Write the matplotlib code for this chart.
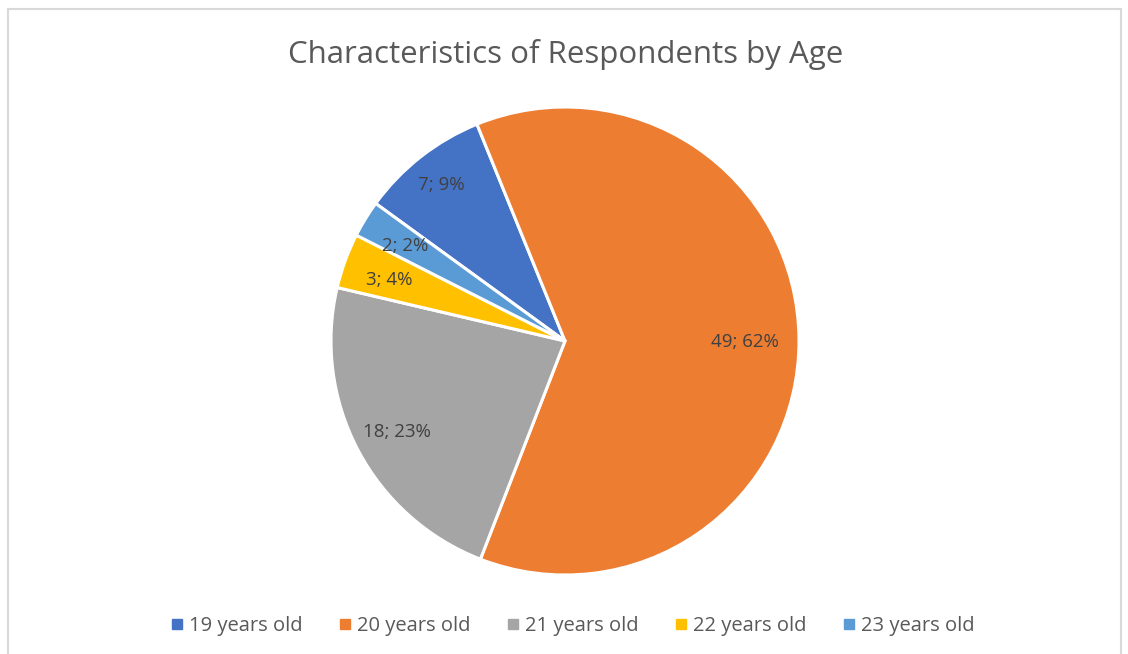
import numpy as np
import matplotlib
matplotlib.use("Agg")
import matplotlib.pyplot as plt
from matplotlib.patches import Rectangle

# Data
categories = ["19 years old", "20 years old", "21 years old", "22 years old", "23 years old"]
counts = [7, 49, 18, 3, 2]
percents = [9, 62, 23, 4, 2]
colors = ["#4472C4", "#ED7D31", "#A5A5A5", "#FFC000", "#5B9BD5"]
title = "Characteristics of Respondents by Age"

plt.rcParams["font.family"] = ["Open Sans", "DejaVu Sans"]

W, H = 1128, 654
fig = plt.figure(figsize=(W / 100, H / 100), dpi=100)
fig.patch.set_facecolor("white")

# chart frame
fig.add_artist(Rectangle((8 / W, -0.1), (1121 - 8) / W, (H - 9) / H + 0.1,
                         transform=fig.transFigure, fill=False,
                         edgecolor="#D9D9D9", linewidth=1.5))

cx, cy, r = 565, 341, 234
ax = fig.add_axes([(cx - r) / W, (H - cy - r) / H, 2 * r / W, 2 * r / H])

wedges, _ = ax.pie(counts, colors=colors, startangle=144, counterclock=False,
                   radius=1, wedgeprops=dict(edgecolor="white", linewidth=2.2))
ax.set_xlim(-1, 1)
ax.set_ylim(-1, 1)
ax.set_aspect("equal")
ax.axis("off")

label_r = [0.86, 0.77, 0.81, 0.80, 0.80]
for w, n, p, lr in zip(wedges, counts, percents, label_r):
    mid = np.deg2rad((w.theta1 + w.theta2) / 2)
    ax.text(lr * np.cos(mid), lr * np.sin(mid) - 0.012, f"{n}; {p}%",
            ha="center", va="center", fontsize=13.5, color="#404040")

fig.text(566 / W, 1 - 54 / H, title, ha="center", va="center",
         fontsize=22.5, color="#595959")

handles = [plt.Line2D([0], [0], marker="s", linestyle="none", markersize=7,
                      markerfacecolor=c, markeredgecolor=c) for c in colors]
fig.legend(handles, categories, loc="center", bbox_to_anchor=(571 / W, 1 - 626 / H),
           ncol=5, frameon=False, fontsize=14.5, labelcolor="#595959",
           handletextpad=0.1, columnspacing=1.6, handlelength=1.0)

fig.savefig("out.png", dpi=100)
